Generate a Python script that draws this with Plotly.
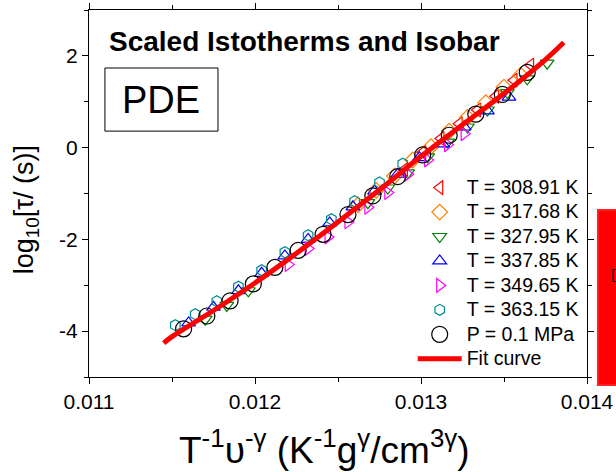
import plotly.graph_objects as go

# ---- data ----
x_red = [0.01290, 0.01301, 0.01312, 0.01323, 0.01334, 0.01345, 0.01356, 0.01366]
y_red = [-0.48, -0.10, 0.20, 0.52, 0.82, 1.12, 1.47, 1.80]

x_orange = [0.01262, 0.01273, 0.01284, 0.01295, 0.01306, 0.01317, 0.01328, 0.01339, 0.01350, 0.01360]
y_orange = [-1.25, -0.93, -0.62, -0.27, 0.02, 0.36, 0.66, 0.98, 1.32, 1.58]

x_green = [0.01170, 0.01183, 0.01196, 0.01268, 0.01280, 0.01292, 0.01304, 0.01316, 0.01328, 0.01340, 0.01352, 0.01364, 0.01376]
y_green = [-3.74, -3.44, -3.12, -1.20, -0.88, -0.55, -0.20, 0.12, 0.45, 0.82, 1.20, 1.50, 1.84]

x_blue = [0.01160, 0.01175, 0.01190, 0.01204, 0.01218, 0.01232, 0.01245, 0.01259, 0.01272, 0.01286, 0.01299, 0.01313, 0.01326, 0.01340, 0.01353]
y_blue = [-3.82, -3.48, -3.12, -2.74, -2.36, -2.00, -1.64, -1.29, -0.95, -0.58, -0.22, 0.08, 0.45, 0.80, 1.10]

x_magenta = [0.01220, 0.01232, 0.01244, 0.01256, 0.01268, 0.01280, 0.01292, 0.01304, 0.01316, 0.01326]
y_magenta = [-2.55, -2.20, -1.95, -1.62, -1.30, -0.98, -0.58, -0.27, 0.06, 0.30]

x_teal = [0.01152, 0.01164, 0.01177, 0.01190, 0.01204, 0.01218, 0.01232, 0.01246, 0.01260, 0.01275, 0.01289]
y_teal = [-3.87, -3.63, -3.35, -3.03, -2.67, -2.28, -1.91, -1.56, -1.17, -0.76, -0.35]

x_isobar = [0.01157, 0.01171, 0.01185, 0.01199, 0.01212, 0.01226, 0.01241, 0.01256, 0.01271, 0.01286, 0.01301, 0.01317, 0.01333, 0.01349, 0.01364]
y_isobar = [-3.95, -3.67, -3.34, -2.97, -2.61, -2.24, -1.89, -1.46, -1.05, -0.63, -0.16, 0.27, 0.73, 1.16, 1.64]

x_fit = [0.01145, 0.01150, 0.01175, 0.01200, 0.01225, 0.01250, 0.01275, 0.01300, 0.01325, 0.01350, 0.01375, 0.01386]
y_fit = [-4.26, -4.12, -3.55, -2.95, -2.30, -1.62, -0.92, -0.19, 0.50, 1.18, 1.92, 2.29]

x_ticks = [0.011, 0.012, 0.013, 0.014]
y_ticks = [-4, -2, 0, 2]

series = [
    ("T = 308.91 K", x_red, y_red, "triangle-left-open", "#ff0000", 12),
    ("T = 317.68 K", x_orange, y_orange, "diamond-open", "#ff8000", 12),
    ("T = 327.95 K", x_green, y_green, "triangle-down-open", "#008000", 12),
    ("T = 337.85 K", x_blue, y_blue, "triangle-up-open", "#0000ff", 12),
    ("T = 349.65 K", x_magenta, y_magenta, "triangle-right-open", "#ff00ff", 12),
    ("T = 363.15 K", x_teal, y_teal, "hexagon-open", "#008b8b", 11),
    ("P = 0.1 MPa", x_isobar, y_isobar, "circle-open", "#000000", 16),
]

FONT = "Arial, Liberation Sans, sans-serif"
LEG = "<span style='font-size:19.5px'>%s</span>"

fig = go.Figure()
for name, xs, ys, sym, col, sz in series:
    fig.add_trace(go.Scatter(
        x=xs, y=ys, mode="markers", name=LEG % name,
        marker=dict(symbol=sym, size=sz, color=col, line=dict(width=1.2, color=col)),
    ))
fig.add_trace(go.Scatter(
    x=x_fit, y=y_fit, mode="lines", name=LEG % "Fit curve",
    line=dict(color="#ff0000", width=5, shape="spline"),
))

axis_common = dict(
    showline=True, linecolor="black", linewidth=1.2, mirror="allticks",
    ticks="outside", ticklen=6, tickwidth=1.2, tickcolor="black",
    showgrid=False, zeroline=False, automargin=False,
    tickfont=dict(family=FONT, size=21, color="black"),
)

fig.update_layout(
    width=616, height=472,
    margin=dict(l=89, r=29, t=10, b=95, autoexpand=False),
    paper_bgcolor="white", plot_bgcolor="white",
    font=dict(family=FONT, color="black"),
    xaxis=dict(range=[0.011, 0.014], tickvals=x_ticks, ticktext=[f"{v:.3f}" for v in x_ticks],
               minor=dict(ticks="outside", ticklen=4, tickwidth=1.2, tickcolor="black", dtick=0.0005, tick0=0.011),
               **axis_common),
    yaxis=dict(range=[-5, 3], tickvals=y_ticks, ticktext=[str(v) for v in y_ticks],
               minor=dict(ticks="outside", ticklen=4, tickwidth=1.2, tickcolor="black", dtick=1, tick0=-5),
               **axis_common),
    legend=dict(x=0.65, y=0.563, xanchor="left", yanchor="top",
                bgcolor="rgba(0,0,0,0)", borderwidth=0, itemwidth=44,
                font=dict(family=FONT, size=16.5, color="black"),
                tracegroupgap=0, itemsizing="trace"),
    showlegend=True,
)

# axis titles
fig.add_annotation(text="T<sup>-1</sup>υ<sup>-γ</sup> (K<sup>-1</sup>g<sup>γ</sup>/cm<sup>3γ</sup>)",
                   xref="paper", yref="paper", x=0.472, y=-0.262, xanchor="center", yanchor="bottom",
                   showarrow=False, font=dict(family=FONT, size=37, color="black"))
fig.add_annotation(text="log<sub>10</sub>[τ/ (s)]", textangle=-90,
                   xref="paper", yref="paper", x=-0.126, y=0.455, xanchor="center", yanchor="middle",
                   showarrow=False, font=dict(family=FONT, size=27, color="black"))

fig.add_annotation(text="<b>Scaled Istotherms and Isobar</b>", xref="paper", yref="paper",
                   x=0.036, y=0.913, xanchor="left", yanchor="middle", showarrow=False,
                   font=dict(family=FONT, size=28, color="black"))
fig.add_shape(type="rect", xref="paper", yref="paper", x0=0.032, x1=0.259, y0=0.670, y1=0.842,
              line=dict(color="black", width=1), fillcolor="rgba(0,0,0,0)")
fig.add_annotation(text="PDE", xref="paper", yref="paper", x=0.145, y=0.756,
                   xanchor="center", yanchor="middle", showarrow=False,
                   font=dict(family=FONT, size=38, color="black"))
# red strip at the right edge of the picture
fig.add_shape(type="rect", xref="paper", yref="paper", x0=1.022, x1=1.06, y0=-0.022, y1=0.455,
              line=dict(color="#ff2020", width=2), fillcolor="#ff0000", layer="above")
fig.add_annotation(text="[", xref="paper", yref="paper", x=1.062, y=0.25, showarrow=False,
                   font=dict(family="DejaVu Serif", size=14, color="black"))

fig.write_html("out.html")
